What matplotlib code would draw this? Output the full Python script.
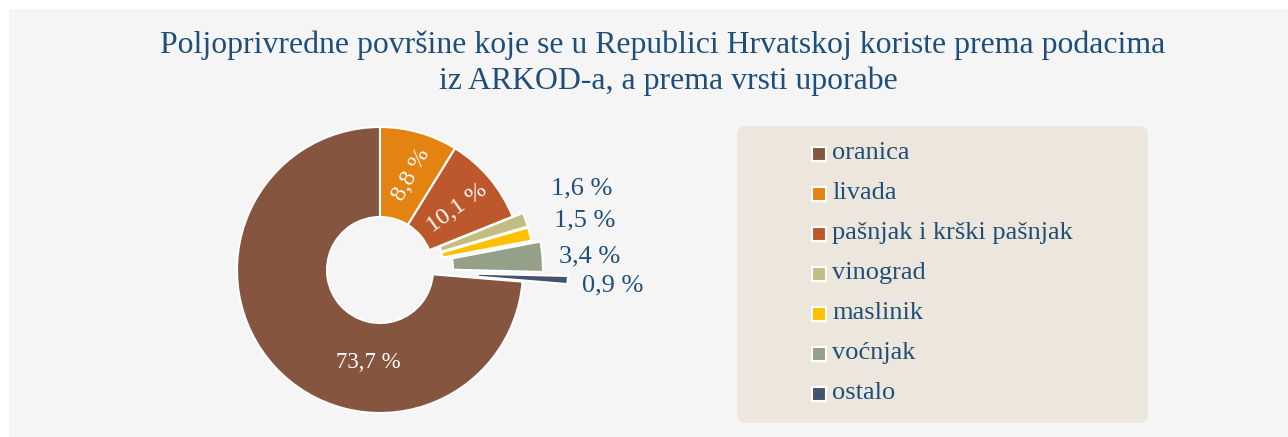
import numpy as np
import matplotlib
matplotlib.use('Agg')
import matplotlib.pyplot as plt
from matplotlib.patches import Rectangle, FancyBboxPatch

plt.rcParams['font.family'] = ['Liberation Serif', 'DejaVu Serif']

W, H = 1288, 437

# podaci
kategorije = ['oranica', 'livada', 'pašnjak i krški pašnjak', 'vinograd',
              'maslinik', 'voćnjak', 'ostalo']
udjeli = [73.7, 8.8, 10.1, 1.6, 1.5, 3.4, 0.9]
boje = ['#86553F', '#E48312', '#BD582C', '#C3BD84', '#FFC000', '#94A088', '#44546A']
naslov = ['Poljoprivredne površine koje se u Republici Hrvatskoj koriste prema podacima',
          'iz ARKOD-a, a prema vrsti uporabe']

TXT = '#1F4E79'


def Y(py):
    # pikseli od vrha -> koordinate osi
    return H - py


fig = plt.figure(figsize=(W / 100, H / 100), dpi=100)
fig.patch.set_facecolor('white')
ax = fig.add_axes([0, 0, 1, 1])

ax.add_patch(Rectangle((9, 0), W - 9, H - 9, facecolor='#F5F5F5', edgecolor='none', zorder=0))

cx, cy, R = 380, Y(270), 143
explode = [0, 0, 0, 11, 11, 20, 45]
start = 90 + udjeli[0] / 100 * 360

wedges, _ = ax.pie(udjeli, colors=boje, startangle=start, counterclock=False,
                   center=(cx, cy), radius=R, explode=explode,
                   wedgeprops=dict(width=90, edgecolor='white', linewidth=1.5))
for w in wedges:
    w.set_zorder(2)

oznake = [f'{v:.1f}'.replace('.', ',') + ' %' for v in udjeli]
# (radijus, kut, rotacija, boja, velicina)
pozicije = [(93, 262.5, 0, 'white', 16.5),
            (100, 72, 61, 'white', 17.5),
            (99, 39, 36, 'white', 17.5),
            (218, 22, 0, TXT, 19),
            (211, 13.7, 0, TXT, 19),
            (210, 3.8, 0, TXT, 19),
            (233.5, -3.9, 0, TXT, 19)]
for txt, (r, a, rot, c, fs) in zip(oznake, pozicije):
    t = np.deg2rad(a)
    ax.text(cx + r * np.cos(t), cy + r * np.sin(t), txt, color=c, fontsize=fs,
            rotation=rot, ha='center', va='center', rotation_mode='anchor', zorder=3)

# legenda
ax.add_patch(FancyBboxPatch((737, Y(423)), 411, 297,
                            boxstyle='round,pad=0,rounding_size=9',
                            facecolor='#EDE6DC', edgecolor='none', zorder=1))
for i, (k, b) in enumerate(zip(kategorije, boje)):
    yc = Y(154 + i * 40)
    ax.add_patch(Rectangle((812, yc - 7), 14, 14, facecolor=b, edgecolor='white',
                           linewidth=1.5, zorder=2))
    ax.text(832, yc + 1, k, color=TXT, fontsize=19, ha='left', va='center', zorder=3)

ax.text(663, Y(53), naslov[0], color=TXT, fontsize=22.9, ha='center', va='baseline')
ax.text(668, Y(89), naslov[1], color=TXT, fontsize=22.9, ha='center', va='baseline')

ax.set_xlim(0, W)
ax.set_ylim(0, H)
ax.set_aspect('auto')
ax.axis('off')

fig.savefig('out.png', dpi=100, facecolor='white')
